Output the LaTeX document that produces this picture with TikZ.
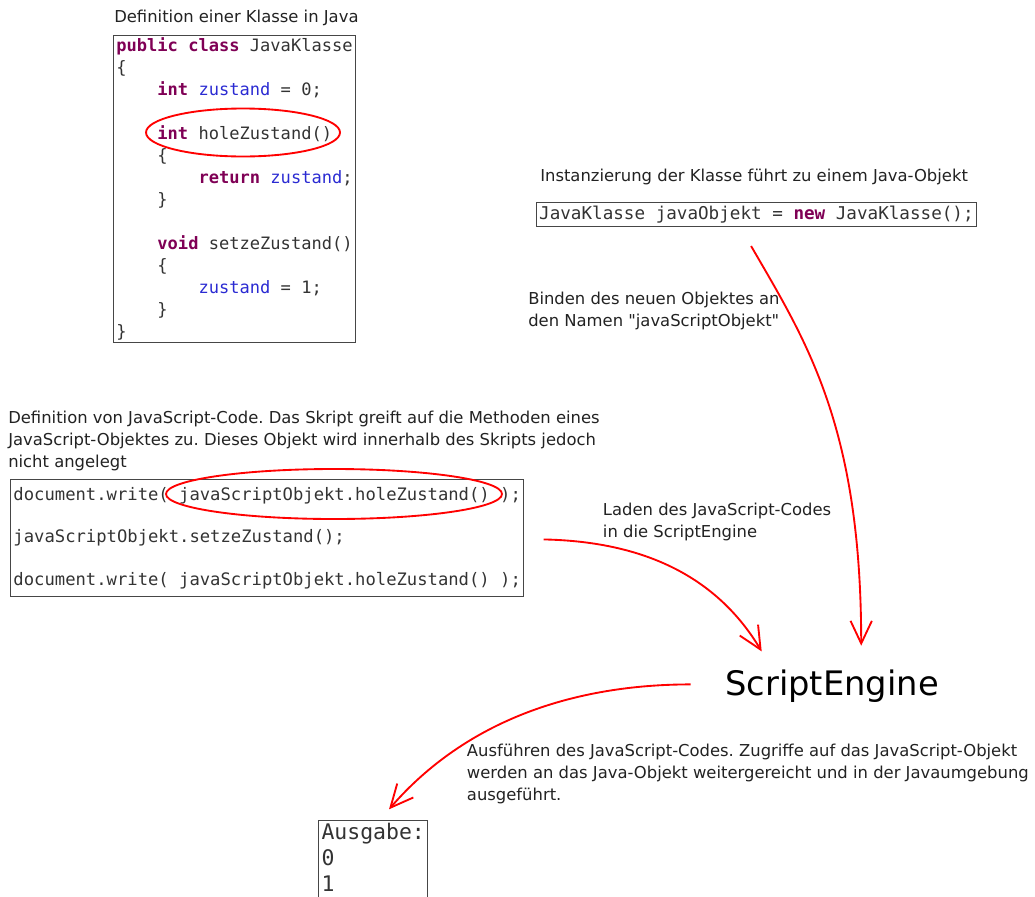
\documentclass[tikz,border=0pt]{standalone}
\usepackage{fontspec}
\setmainfont{DejaVu Sans}[Ligatures=TeXOff]
\newfontfamily\codefont{DejaVu Sans Mono}
\usepackage{xcolor}
\usetikzlibrary{arrows.meta}
\definecolor{kwcolor}{RGB}{127,0,85}
\definecolor{fldcolor}{RGB}{42,42,210}
\definecolor{txtcolor}{RGB}{34,34,34}
\definecolor{codecolor}{RGB}{51,51,51}
\definecolor{framecolor}{RGB}{70,70,70}
\newcommand{\kw}[1]{\textcolor{kwcolor}{\bfseries #1}}
\newcommand{\fld}[1]{\textcolor{fldcolor}{#1}}
\newcommand{\tabA}{\phantom{0000}}
\frenchspacing

\begin{document}
\begin{tikzpicture}[x=0.75pt,y=-0.75pt,
	lbl/.style={anchor=base west,inner sep=0pt,align=left,text=txtcolor,font=\fontsize{12.3}{16.3}\selectfont},
	codebox/.style={draw=framecolor,line width=0.75pt,anchor=north west,align=left,text=codecolor,inner xsep=2.25pt,inner ysep=0pt},
	redarrow/.style={draw=red,line width=1.4pt,-{Straight Barb[length=17pt,width=16pt]}},
	redoval/.style={draw=red,line width=1.4pt}]
	\useasboundingbox (0,0) rectangle (1035,896);
	% Java-Klasse
	\node[lbl] (titleJava) at (114,22) {Definition einer Klasse in Java};
	\node[codebox,minimum width=181.5pt,minimum height=230.25pt,inner xsep=1.5pt,font=\codefont\fontsize{12.8}{16.5}\selectfont] (javaCode) at (113,35) {\kw{public class} JavaKlasse\\
		\{\\
		\tabA\kw{int} \fld{zustand} = 0;\\
		\mbox{}\\
		\tabA\kw{int} holeZustand()\\
		\tabA\{\\
		\tabA\tabA\kw{return} \fld{zustand};\\
		\tabA\}\\
		\mbox{}\\
		\tabA\kw{void} setzeZustand()\\
		\tabA\{\\
		\tabA\tabA\fld{zustand} = 1;\\
		\tabA\}\\
		\}};
	\draw[redoval] (243,132.5) ellipse [x radius=72.75pt,y radius=18pt];
	% Instanzierung
	\node[lbl] (instText) at (540,181.7) {Instanzierung der Klasse führt zu einem Java-Objekt};
	\node[codebox,minimum width=329.25pt,minimum height=18pt,font=\codefont\fontsize{13.2}{16}\selectfont] (instCode) at (535.7,201.7) {JavaKlasse javaObjekt = \kw{new} JavaKlasse();};
	% base = letzte Zeile
	\node[lbl] (bindText) at (528,326) {Binden des neuen Objektes an\\den Namen "javaScriptObjekt"};
	% JavaScript-Code
	\node[lbl] (jsText) at (8,467) {Definition von JavaScript-Code. Das Skript greift auf die Methoden eines\\JavaScript-Objektes zu. Dieses Objekt wird innerhalb des Skripts jedoch\\nicht angelegt};
	\node[codebox,minimum width=384.5pt,minimum height=87.5pt,font=\codefont\fontsize{12.9}{16.1}\selectfont] (jsCode) at (10,479.3) {document.write( javaScriptObjekt.holeZustand() );\\
		\mbox{}\\
		javaScriptObjekt.setzeZustand();\\
		\mbox{}\\
		document.write( javaScriptObjekt.holeZustand() );};
	\draw[redoval] (334,494) ellipse [x radius=126pt,y radius=18.75pt];
	\node[lbl] (ladenText) at (602.7,537.7) {Laden des JavaScript-Codes\\in die ScriptEngine};
	% ScriptEngine und Ausgabe
	\node[anchor=base west,inner sep=0pt,font=\fontsize{25.3}{30}\selectfont] (engine) at (725,695) {ScriptEngine};
	\node[lbl] (execText) at (466.7,800) {Ausführen des JavaScript-Codes. Zugriffe auf das JavaScript-Objekt\\werden an das Java-Objekt weitergereicht und in der Javaumgebung\\ausgeführt.};
	\node[codebox,inner ysep=2.25pt,minimum width=81.75pt,font=\codefont\fontsize{16.1}{19.5}\selectfont] (output) at (318,820) {Ausgabe:\\0\\1\rule[-30pt]{0pt}{0pt}};
	% Pfeile
	\draw[redarrow] ([shift={(-5.35,19.3)}]instCode.south) .. controls +(55,95) and +(0,-220) .. ([shift={(29.2,-23.4)}]engine.north);
	\draw[redarrow] ([shift={(19.2,1.3)}]jsCode.east) .. controls +(100,2) and +(-45,-75) .. ([shift={(36.7,-17.7)}]engine.north west);
	\draw[redarrow] ([shift={(-34.3,-1.3)}]engine.west) .. controls +(-115,0) and +(78,-90) .. ([shift={(15.8,-10.7)}]output.north);
\end{tikzpicture}
\end{document}
